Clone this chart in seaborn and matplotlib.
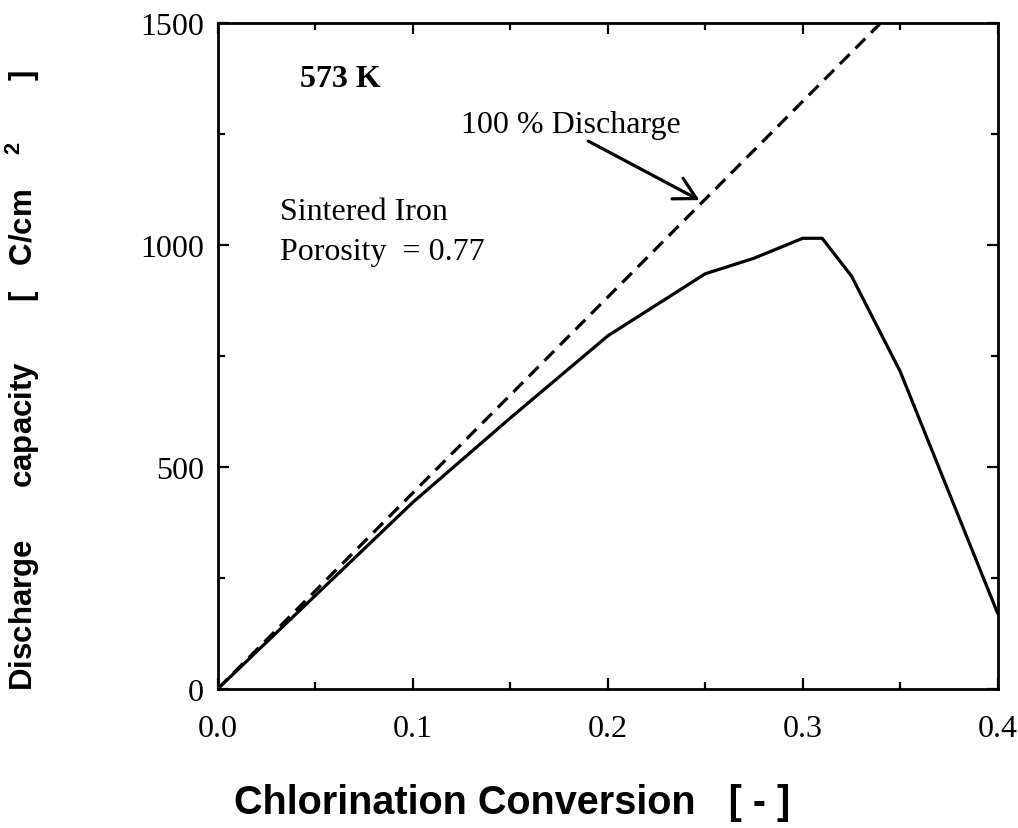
import matplotlib
matplotlib.use("Agg")
import matplotlib.pyplot as plt
import seaborn as sns
import pandas as pd
from matplotlib.ticker import MultipleLocator

# --- data ---
conversion = [0.0, 0.05, 0.10, 0.15, 0.20, 0.25, 0.275, 0.30, 0.31, 0.325, 0.35, 0.40]
capacity = [0, 210, 420, 610, 795, 935, 970, 1015, 1015, 930, 715, 170]
full_conversion = [0.0, 0.34]
full_capacity = [0, 1500]

x_ticks = [0.0, 0.1, 0.2, 0.3, 0.4]
x_tick_labels = ["0.0", "0.1", "0.2", "0.3", "0.4"]
y_ticks = [0, 500, 1000, 1500]
y_tick_labels = ["0", "500", "1000", "1500"]

sns.set_style("ticks")
plt.rcParams["font.family"] = ["Liberation Serif", "DejaVu Serif"]
plt.rcParams["mathtext.fontset"] = "custom"
plt.rcParams["mathtext.rm"] = "Liberation Sans"
plt.rcParams["mathtext.bf"] = "Liberation Sans:bold"
for k in ["text.color", "axes.labelcolor", "xtick.color", "ytick.color",
          "xtick.labelcolor", "ytick.labelcolor"]:
    plt.rcParams[k] = "black"

fig = plt.figure(figsize=(10.18, 8.29), dpi=100)
ax = fig.add_axes([0.214, 0.168, 0.766, 0.803])

df = pd.DataFrame({"x": conversion, "y": capacity})
df_full = pd.DataFrame({"x": full_conversion, "y": full_capacity})

sns.lineplot(data=df, x="x", y="y", ax=ax, color="black", linewidth=2.3,
             sort=False, estimator=None)
sns.lineplot(data=df_full, x="x", y="y", ax=ax, color="black", linewidth=2.3,
             sort=False, estimator=None)
ax.lines[-1].set_linestyle((0, (4.3, 2.6)))

ax.set_xlim(0, 0.4)
ax.set_ylim(0, 1500)
ax.set_xticks(x_ticks)
ax.set_xticklabels(x_tick_labels)
ax.set_yticks(y_ticks)
ax.set_yticklabels(y_tick_labels)
ax.xaxis.set_minor_locator(MultipleLocator(0.05))
ax.yaxis.set_minor_locator(MultipleLocator(250))

ax.tick_params(which="both", direction="in", top=True, right=True, width=1.6,
               color="black")
ax.tick_params(which="major", length=8, labelsize=23)
ax.tick_params(axis="x", which="major", pad=18)
ax.tick_params(axis="y", which="major", pad=10)
ax.tick_params(which="minor", length=5)
for s in ax.spines.values():
    s.set_linewidth(2.0)
    s.set_color("black")
    s.set_visible(True)

ax.set_xlabel("Chlorination Conversion   [ - ]", fontsize=28.5,
              fontweight="bold", family="Liberation Sans")
ax.xaxis.set_label_coords(0.378, -0.141)
ax.set_ylabel(r"Discharge      capacity       [   C/cm    $^{\mathbf{2}}$       ]",
              fontsize=22.5, fontweight="bold", family="Liberation Sans")
ax.yaxis.set_label_coords(-0.226, 0.465)

ax.text(0.042, 1376, "573 K", fontsize=23, fontweight="bold",
        ha="left", va="center")
ax.text(0.032, 1076, "Sintered Iron", fontsize=23, ha="left", va="center")
ax.text(0.032, 986, "Porosity  = 0.77", fontsize=23, ha="left", va="center")
ax.text(0.181, 1272, "100 % Discharge", fontsize=23, ha="center", va="center")
ax.annotate("", xy=(0.247, 1101), xytext=(0.19, 1234),
            arrowprops=dict(arrowstyle="->,head_length=0.55,head_width=0.3",
                            color="black", lw=2.3,
                            shrinkA=0, shrinkB=0, mutation_scale=28))

fig.savefig("out.png", dpi=100)
